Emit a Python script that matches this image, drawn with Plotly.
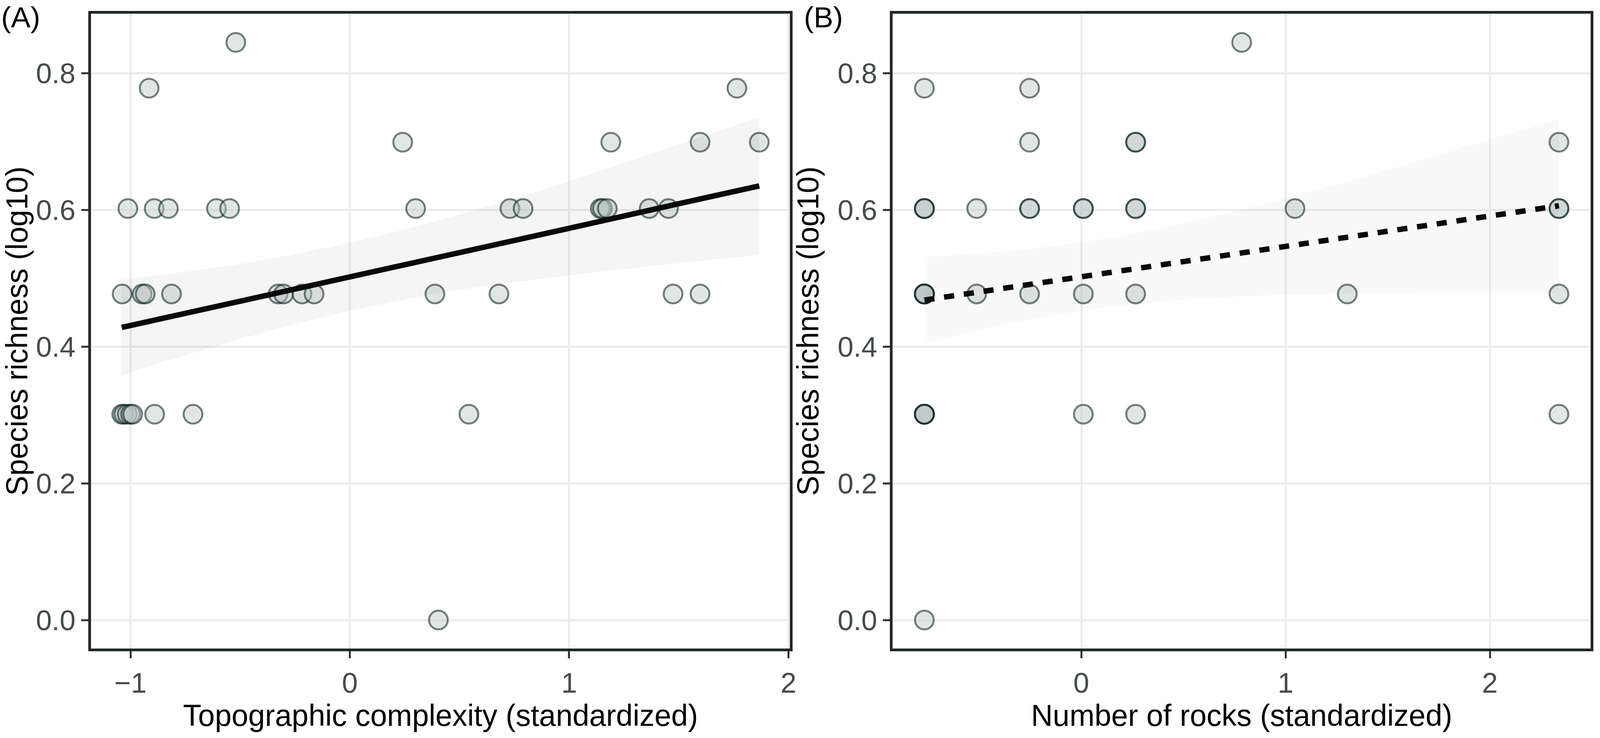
import plotly.graph_objects as go

# panel A: topographic complexity vs species richness
topo_x = [-0.52,
          -0.915, 1.765,
          0.241, 1.19, 1.597, 1.867,
          -1.012, -0.892, -0.827, -0.608, -0.548, 0.30, 0.730, 0.790, 1.142, 1.152, 1.174, 1.365, 1.453,
          -1.038, -0.947, -0.933, -0.813, -0.327, -0.302, -0.218, -0.163, 0.388, 0.68, 1.474, 1.597,
          -1.04, -1.03, -1.015, -1.0, -0.99, -0.89, -0.715, 0.543,
          0.404]
topo_y = [0.845,
          0.778, 0.778,
          0.699, 0.699, 0.699, 0.699,
          0.602, 0.602, 0.602, 0.602, 0.602, 0.602, 0.602, 0.602, 0.602, 0.602, 0.602, 0.602, 0.602,
          0.477, 0.477, 0.477, 0.477, 0.477, 0.477, 0.477, 0.477, 0.477, 0.477, 0.477, 0.477,
          0.301, 0.301, 0.301, 0.301, 0.301, 0.301, 0.301, 0.301,
          0.0]

# panel B: number of rocks vs species richness
rocks_x = [-0.768] * 16 + [-0.512] * 2 + [-0.253] * 5 + [0.01] * 4 + [0.266] * 6 \
    + [0.785, 1.046, 1.302] + [2.338] * 5
rocks_y = [0.778, 0.602, 0.602, 0.602, 0.477, 0.477, 0.477, 0.477, 0.477, 0.477,
           0.301, 0.301, 0.301, 0.301, 0.301, 0.0,
           0.602, 0.477,
           0.778, 0.699, 0.602, 0.602, 0.477,
           0.602, 0.602, 0.477, 0.301,
           0.699, 0.699, 0.602, 0.602, 0.477, 0.301,
           0.845, 0.602, 0.477,
           0.699, 0.602, 0.602, 0.477, 0.301]

# fitted lines and confidence bands
fit_a_x = [-1.04, -0.5, 0.0, 0.5, 1.0, 1.5, 1.867]
fit_a_y = [0.428, 0.466, 0.502, 0.538, 0.573, 0.609, 0.635]
band_a_lo = [0.358, 0.411, 0.452, 0.483, 0.504, 0.522, 0.534]
band_a_hi = [0.498, 0.521, 0.552, 0.593, 0.642, 0.696, 0.736]

fit_b_x = [-0.768, -0.25, 0.25, 0.75, 1.25, 1.75, 2.338]
fit_b_y = [0.468, 0.491, 0.513, 0.535, 0.557, 0.580, 0.606]
band_b_lo = [0.405, 0.440, 0.462, 0.473, 0.477, 0.479, 0.479]
band_b_hi = [0.531, 0.543, 0.565, 0.598, 0.637, 0.681, 0.733]

y_ticks = [0.0, 0.2, 0.4, 0.6, 0.8]

FONT = "Liberation Sans, Arial, sans-serif"
PT_FILL = "rgba(190,201,198,0.46)"
PT_LINE = "rgba(0,28,26,0.55)"


def add_panel(fig, xs, ys, fx, fy, lo, hi, xa, ya, dash, band_col):
    fig.add_trace(go.Scatter(
        x=xs, y=ys, mode="markers", xaxis=xa, yaxis=ya, showlegend=False,
        marker=dict(size=48, color=PT_FILL, line=dict(color=PT_LINE, width=5))))
    fig.add_trace(go.Scatter(
        x=fx, y=lo, mode="lines", line=dict(width=0, shape="spline"),
        xaxis=xa, yaxis=ya, showlegend=False, hoverinfo="skip"))
    fig.add_trace(go.Scatter(
        x=fx, y=hi, mode="lines", fill="tonexty", fillcolor=band_col,
        line=dict(width=0, shape="spline"),
        xaxis=xa, yaxis=ya, showlegend=False, hoverinfo="skip"))
    fig.add_trace(go.Scatter(
        x=fx, y=fy, mode="lines", xaxis=xa, yaxis=ya, showlegend=False,
        line=dict(color="#0a0a0a", width=14, dash=dash)))


fig = go.Figure()
add_panel(fig, topo_x, topo_y, fit_a_x, fit_a_y, band_a_lo, band_a_hi,
          "x", "y", "solid", "rgba(0,0,0,0.04)")
add_panel(fig, rocks_x, rocks_y, fit_b_x, fit_b_y, band_b_lo, band_b_hi,
          "x2", "y2", "26px,25px", "rgba(0,0,0,0.025)")

axis_common = dict(
    showgrid=True, gridcolor="#ebebeb", gridwidth=5, zeroline=False,
    showline=True, mirror=True, linecolor="#222828", linewidth=7,
    ticks="outside", ticklen=18, tickwidth=5, tickcolor="#333333",
    tickfont=dict(family=FONT, size=73, color="#444b4b"),
)
title_font = dict(family=FONT, size=77, color="black")

# the browser viewport is 4096 px wide, so the layout is squeezed to that width
fig.update_layout(
    width=4096, height=1889,
    margin=dict(l=233, r=8, t=35, b=229),
    paper_bgcolor="white", plot_bgcolor="white",
    xaxis=dict(domain=[0, 0.4661], range=[-1.18, 2.007], tickvals=[-1, 0, 1, 2],
               title=dict(text="Topographic complexity (standardized)", font=title_font, standoff=18),
               **axis_common),
    yaxis=dict(range=[-0.0417, 0.887], tickvals=y_ticks, tickformat=".1f",
               title=dict(text="Species richness (log10)", font=title_font, standoff=26),
               **axis_common),
    xaxis2=dict(domain=[0.5346, 1], range=[-0.923, 2.493], tickvals=[0, 1, 2], anchor="y2",
                title=dict(text="Number of rocks (standardized)", font=title_font, standoff=18),
                **axis_common),
    yaxis2=dict(range=[-0.0417, 0.887], tickvals=y_ticks, tickformat=".1f", anchor="x2",
                title=dict(text="Species richness (log10)", font=title_font, standoff=26),
                **axis_common),
    annotations=[
        dict(text="(A)", x=-0.0604, y=1.0215, xref="paper", yref="paper",
             xanchor="left", yanchor="top", showarrow=False,
             font=dict(family=FONT, size=75, color="black")),
        dict(text="(B)", x=0.4749, y=1.0215, xref="paper", yref="paper",
             xanchor="left", yanchor="top", showarrow=False,
             font=dict(family=FONT, size=75, color="black")),
    ],
)

fig.write_html("out.html", config={"displayModeBar": False},
               post_script="document.body.style.margin = '0';")
